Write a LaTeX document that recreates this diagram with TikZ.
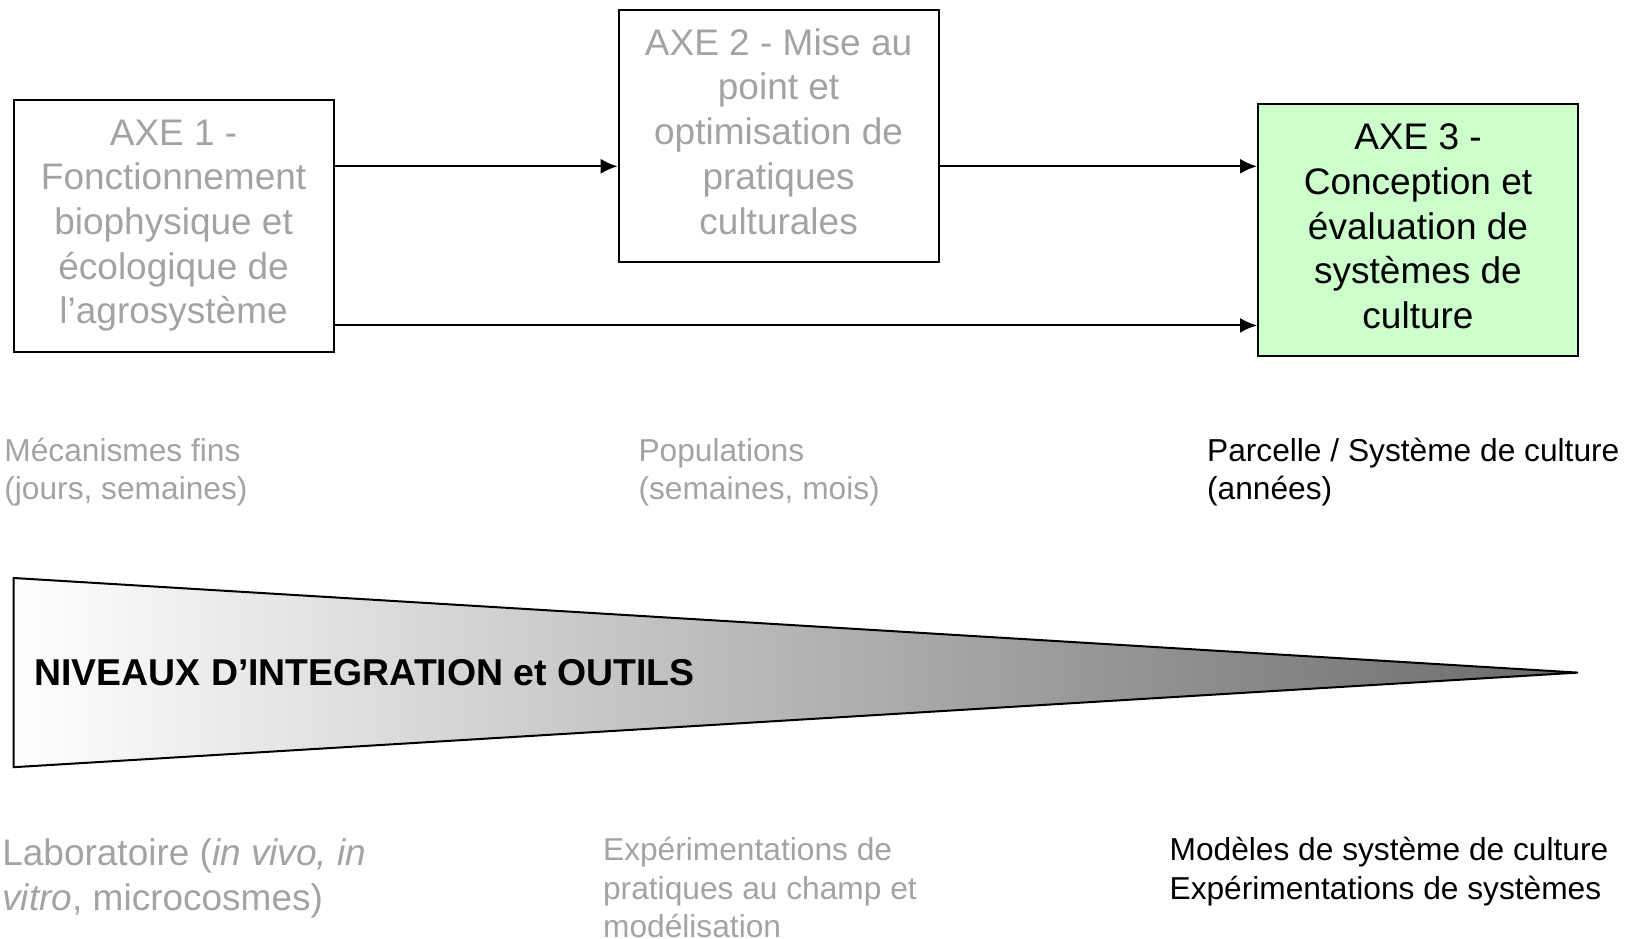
\documentclass[tikz,border=0pt]{standalone}
\usepackage{fontspec}
\setmainfont{Liberation Sans}
\usetikzlibrary{arrows.meta}
\definecolor{txtgray}{gray}{0.64}
\definecolor{axegreen}{RGB}{204,255,204}
\definecolor{tipgray}{RGB}{105,105,105}
\begin{document}
\begin{tikzpicture}[x=1pt,y=-1pt,
  axebox/.style={draw=black,line width=2pt,minimum width=320pt,minimum height=252pt,
    inner sep=0pt,align=center,font=\fontsize{37}{44.7}\selectfont},
  link/.style={line width=2pt,-{Latex[length=17pt,width=15pt]}},
  small/.style={anchor=north west,inner sep=0pt,align=left,font=\fontsize{31.7}{38.5}\selectfont},
  large/.style={anchor=north west,inner sep=0pt,align=left,font=\fontsize{37}{44.7}\selectfont}]
\useasboundingbox (0,0) rectangle (1630,939);

% boxes
\node[axebox,text=txtgray] (b1) at (173.6,225.6)
  {\strut AXE 1 -\\Fonctionnement\\biophysique et\\écologique de\\l’agrosystème\strut};
\node[axebox,text=txtgray] (b2) at (778.6,135.7)
  {\strut AXE 2 - Mise au\\point et\\optimisation de\\pratiques\\culturales\strut};
\node[axebox,fill=axegreen,text=black] (b3) at (1418,230.2)
  {\strut AXE 3 -\\Conception et\\évaluation de\\systèmes de\\culture\strut};

% arrows
\coordinate (r1) at (0,166.3);
\coordinate (r2) at (0,325.4);
\draw[link] (b1.east |- r1) -- (b2.west |- r1);
\draw[link] (b2.east |- r1) -- (b3.west |- r1);
\draw[link] (b1.east |- r2) -- (b3.west |- r2);

% scale labels
\node[small,text=txtgray] (l1) at (4.2,434.2) {\strut Mécanismes fins\\\strut(jours, semaines)};
\node[small,text=txtgray] (l2) at (638.3,434.2) {\strut Populations\\\strut(semaines, mois)};
\node[small,text=black] (l3) at (1206.9,434.2) {\strut Parcelle / Système de culture\\\strut(années)};

% wedge
\coordinate (wt) at (13.5,578);
\coordinate (wb) at (13.5,767.2);
\coordinate (wp) at (1578,672.6);
\shade[left color=white,right color=tipgray] (wt) -- (wp) -- (wb) -- cycle;
\draw[line width=2pt,line join=miter] (wb) -- (wt) -- (wp) -- cycle;
\node[anchor=west,inner sep=0pt,font=\fontsize{37.4}{44.7}\selectfont\bfseries] (title) at (34.3,672.6)
  {NIVEAUX D’INTEGRATION et OUTILS};

% tool labels
\node[large,text=txtgray] (t1) at (2.1,834.4)
  {\strut Laboratoire (\textit{in vivo, in}\\\strut\textit{vitro}, microcosmes)};
\node[small,text=txtgray] (t2) at (602.9,833.4)
  {\strut Expérimentations de\\\strut pratiques au champ et\\\strut modélisation};
\node[small,text=black] (t3) at (1169.4,833.4)
  {\strut Modèles de système de culture\\\strut Expérimentations de systèmes};
\end{tikzpicture}
\end{document}
